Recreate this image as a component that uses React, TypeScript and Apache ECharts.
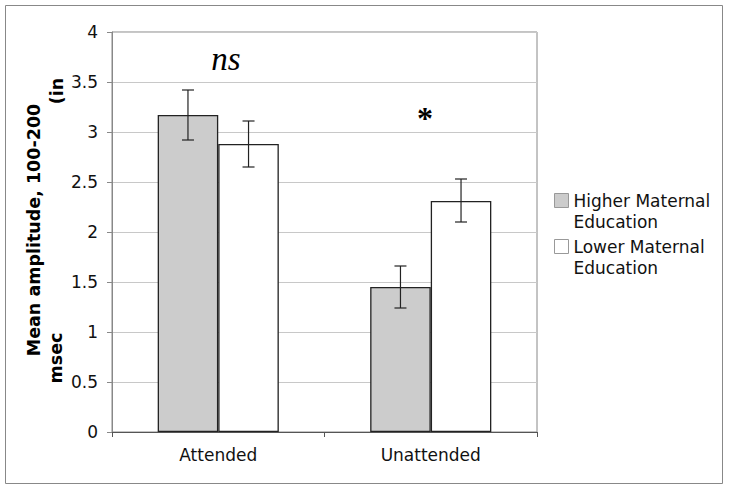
import React, { useEffect, useRef } from "react";
import * as echarts from "echarts";

const categories = ["Attended", "Unattended"];
const seriesNames = ["Higher Maternal Education", "Lower Maternal Education"];
const higherMeans = [3.17, 1.45];
const lowerMeans = [2.88, 2.31];
const higherLow = [2.92, 1.24];
const higherHigh = [3.42, 1.66];
const lowerLow = [2.65, 2.1];
const lowerHigh = [3.11, 2.53];
const yTicks = { min: 0, max: 4, interval: 0.5 };

const FONT = "DejaVu Sans";

function errorSeries(idx: number, lows: number[], highs: number[]) {
  const data = categories.map((_, i) => [i, lows[i], highs[i]]);
  return {
    type: "custom",
    name: "err" + idx,
    silent: true,
    z: 5,
    renderItem: (params: any, api: any) => {
      const ci = api.value(0);
      const lo = api.coord([ci, api.value(1)]);
      const hi = api.coord([ci, api.value(2)]);
      const band = api.size([1, 0])[0];
      const barW = (band * 0.57) / 2;
      const x = lo[0] + (idx === 0 ? -barW / 2 : barW / 2);
      const cap = 6;
      const st = { stroke: "#222", lineWidth: 1.2 };
      return {
        type: "group",
        children: [
          { type: "line", shape: { x1: x, y1: lo[1], x2: x, y2: hi[1] }, style: st },
          { type: "line", shape: { x1: x - cap, y1: lo[1], x2: x + cap, y2: lo[1] }, style: st },
          { type: "line", shape: { x1: x - cap, y1: hi[1], x2: x + cap, y2: hi[1] }, style: st },
        ],
      };
    },
    data,
  };
}

export default function App() {
  const ref = useRef<HTMLDivElement>(null);
  useEffect(() => {
    const chart = echarts.init(ref.current!, null, { renderer: "svg" });
    chart.setOption({
      animation: false,
      backgroundColor: "#fff",
      grid: {
        left: 112,
        top: 32,
        right: 192,
        bottom: 57,
        show: true,
        borderColor: "#888",
        borderWidth: 1,
        backgroundColor: "transparent",
      },
      legend: {
        orient: "vertical",
        left: 554,
        top: 169,
        padding: 0,
        itemGap: -17,
        itemWidth: 14,
        itemHeight: 14,
        icon: "rect",
        data: seriesNames,
        itemStyle: { borderColor: "#999", borderWidth: 1 },
        formatter: (n: string) => "\n" + n.replace(" Education", "\nEducation"),
        textStyle: {
          fontFamily: FONT,
          fontSize: 17,
          color: "#111",
          lineHeight: 21,
        },
      },
      xAxis: {
        type: "category",
        data: categories,
        axisLine: { lineStyle: { color: "#555", width: 1 } },
        axisTick: { show: true, length: 5, lineStyle: { color: "#555" } },
        axisLabel: { fontFamily: FONT, fontSize: 17, color: "#111", margin: 14 },
        splitLine: { show: false },
      },
      yAxis: {
        type: "value",
        min: yTicks.min,
        max: yTicks.max,
        interval: yTicks.interval,
        axisLine: { show: true, lineStyle: { color: "#888" } },
        axisTick: { show: true, length: 5, lineStyle: { color: "#888" } },
        axisLabel: { fontFamily: FONT, fontSize: 17, color: "#111", margin: 14 },
        splitLine: { show: true, lineStyle: { color: "#c8c8c8" } },
      },
      series: [
        {
          type: "bar",
          name: seriesNames[0],
          data: higherMeans,
          barGap: "0%",
          barCategoryGap: "43%",
          itemStyle: { color: "#cccccc", borderColor: "#222", borderWidth: 1.3 },
        },
        {
          type: "bar",
          name: seriesNames[1],
          data: lowerMeans,
          barGap: "0%",
          barCategoryGap: "43%",
          itemStyle: { color: "#ffffff", borderColor: "#222", borderWidth: 1.3 },
        },
        errorSeries(0, higherLow, higherHigh),
        errorSeries(1, lowerLow, lowerHigh),
      ],
      graphic: [
        {
          type: "rect",
          shape: { x: 5.5, y: 5.5, width: 717, height: 478 },
          style: { fill: "none", stroke: "#888", lineWidth: 1 },
          silent: true,
        },
        {
          type: "text",
          x: 34,
          y: 230,
          rotation: Math.PI / 2,
          style: {
            text: "Mean amplitude, 100-200",
            font: `bold 17.5px "${FONT}"`,
            fill: "#000",
            align: "center",
            verticalAlign: "middle",
          },
        },
        {
          type: "text",
          x: 57,
          y: 91,
          rotation: Math.PI / 2,
          style: {
            text: "(in",
            font: `bold 17.5px "${FONT}"`,
            fill: "#000",
            align: "center",
            verticalAlign: "middle",
          },
        },
        {
          type: "text",
          x: 56,
          y: 358,
          rotation: Math.PI / 2,
          style: {
            text: "msec",
            font: `bold 17.5px "${FONT}"`,
            fill: "#000",
            align: "center",
            verticalAlign: "middle",
          },
        },
        {
          type: "text",
          x: 226,
          y: 59,
          style: {
            text: "ns",
            font: `italic 33px "Liberation Serif"`,
            fill: "#000",
            align: "center",
            verticalAlign: "middle",
          },
        },
        {
          type: "text",
          x: 425,
          y: 118,
          style: {
            text: "*",
            font: `bold 32px "Liberation Serif"`,
            fill: "#000",
            align: "center",
            verticalAlign: "middle",
          },
        },
      ],
    });
    return () => chart.dispose();
  }, []);
  return (
    <div
      ref={ref}
      style={{ position: "fixed", left: 0, top: 0, width: 729, height: 489, background: "#fff" }}
    />
  );
}
